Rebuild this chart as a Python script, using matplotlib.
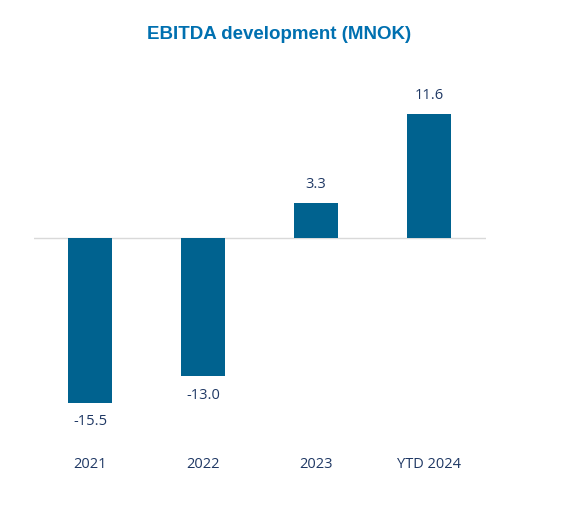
import matplotlib.pyplot as plt
import numpy as np

categories = ["2021", "2022", "2023", "YTD 2024"]
ebitda = [-15.5, -13.0, 3.3, 11.6]

bar_color = "#00628F"
text_color = "#1F3864"
title_color = "#0070B0"

fig = plt.figure(figsize=(5.78, 5.07), dpi=100)
ax = fig.add_axes([0.058, 0.1105, 0.782, 0.7352])

x = np.arange(len(categories))
bars = ax.bar(x, ebitda, width=0.39, color=bar_color, zorder=2)
ax.axhline(0, color="#D9D9D9", linewidth=1, zorder=1)

for xi, v in zip(x, ebitda):
    off = 8 if v >= 0 else -8
    ax.annotate(f"{v:.1f}", (xi, v), xytext=(0, off), textcoords="offset points",
                ha="center", va="bottom" if v >= 0 else "top",
                fontsize=10.5, color=text_color, family="Open Sans")

ax.set_xlim(-0.5, 3.5)
ax.set_ylim(-20, 15)
ax.set_xticks(x)
ax.set_xticklabels(categories, fontsize=10.5, color=text_color, family="Open Sans")
ax.tick_params(axis="x", length=0, pad=4)
ax.set_yticks([])
for s in ax.spines.values():
    s.set_visible(False)

fig.text(0.482, 0.931, "EBITDA development (MNOK)", ha="center", va="center",
         fontsize=13.5, fontweight="bold", color=title_color, family="Liberation Sans")

fig.savefig("out.png", dpi=100)
